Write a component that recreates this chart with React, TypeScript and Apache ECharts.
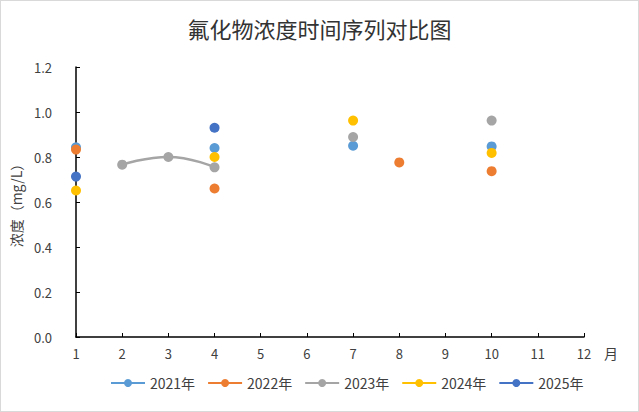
import React, { useEffect, useRef } from "react";
import * as echarts from "echarts";

const months = ["1", "2", "3", "4", "5", "6", "7", "8", "9", "10", "11", "12"];
const seriesNames = ["2021年", "2022年", "2023年", "2024年", "2025年"];
const colors = ["#5B9BD5", "#ED7D31", "#A5A5A5", "#FFC000", "#4472C4"];

const v2021 = [0.843, null, null, 0.84, null, null, 0.85, null, null, 0.847, null, null];
const v2022 = [0.833, null, null, 0.66, null, null, null, 0.776, null, 0.737, null, null];
const v2023 = [null, 0.766, 0.8, 0.754, null, null, 0.889, null, null, 0.962, null, null];
const v2024 = [0.651, null, null, 0.8, null, null, 0.962, null, null, 0.818, null, null];
const v2025 = [0.713, null, null, 0.93, null, null, null, null, null, null, null, null];

const allValues = [v2021, v2022, v2023, v2024, v2025];

const FONT = "'Noto Sans CJK SC', 'Noto Sans', sans-serif";

export default function App() {
  const ref = useRef<HTMLDivElement>(null);
  useEffect(() => {
    document.body.style.margin = "0";
    if (!ref.current) return;
    const chart = echarts.init(ref.current, undefined, { renderer: "svg" });
    chart.setOption({
      animation: false,
      backgroundColor: "#ffffff",
      textStyle: { fontFamily: FONT },
      title: {
        text: "氟化物浓度时间序列对比图",
        left: "center",
        top: 11,
        textStyle: { fontSize: 22, fontWeight: "normal", color: "#333333", fontFamily: FONT },
      },
      color: colors,
      legend: {
        bottom: 16,
        left: 104,
        itemWidth: 34,
        itemHeight: 10,
        itemGap: 12,
        textStyle: { fontSize: 14, color: "#404040", fontFamily: FONT },
        data: seriesNames,
      },
      grid: { left: 75, right: 54, top: 66, bottom: 74 },
      xAxis: {
        type: "category",
        data: months,
        boundaryGap: false,
        name: "月",
        nameLocation: "end",
        nameGap: 20,
        nameTextStyle: {
          fontSize: 14,
          color: "#404040",
          verticalAlign: "top",
          padding: [9, 0, 0, 0],
          fontFamily: FONT,
        },
        axisLine: { lineStyle: { color: "#000000", width: 1.5 } },
        axisTick: { inside: true, length: 4, alignWithLabel: true, lineStyle: { color: "#000000" } },
        axisLabel: { fontSize: 13, color: "#404040", margin: 10, fontFamily: FONT },
        splitLine: { show: false },
      },
      yAxis: {
        type: "value",
        min: 0,
        max: 1.2,
        interval: 0.2,
        name: "浓度（mg/L）",
        nameLocation: "middle",
        nameRotate: 90,
        nameGap: 53,
        nameTextStyle: { fontSize: 14, color: "#404040", fontFamily: FONT },
        axisLine: { show: true, lineStyle: { color: "#000000", width: 1.5 } },
        axisTick: { show: true, inside: true, length: 4, lineStyle: { color: "#000000" } },
        axisLabel: {
          fontSize: 13,
          color: "#404040",
          margin: 24,
          fontFamily: FONT,
          formatter: (v: number) => v.toFixed(1),
        },
        splitLine: { show: false },
      },
      series: seriesNames.map((name, i) => ({
        name,
        type: "line",
        data: allValues[i],
        connectNulls: false,
        smooth: true,
        symbol: "circle",
        symbolSize: 10,
        showSymbol: true,
        itemStyle: { color: colors[i] },
        lineStyle: { color: colors[i], width: 2.5 },
        z: 2 + i,
      })),
    });
    return () => chart.dispose();
  }, []);
  return (
    <div
      ref={ref}
      style={{
        width: 639,
        height: 412,
        border: "1px solid #d9d9d9",
        boxSizing: "border-box",
      }}
    />
  );
}
